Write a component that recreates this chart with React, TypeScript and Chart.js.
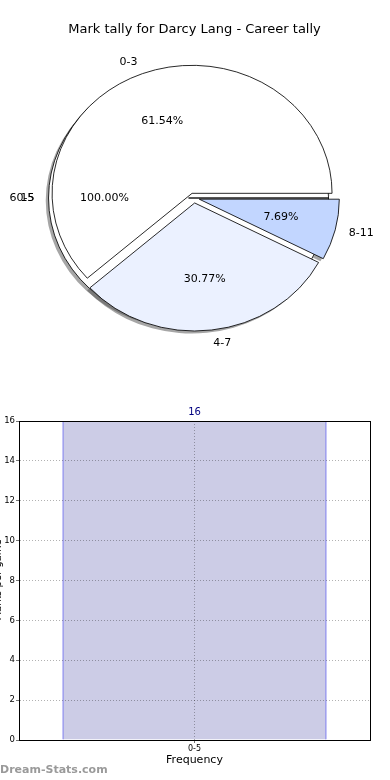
import React, { useEffect, useRef } from 'react';
import { Chart, registerables } from 'chart.js';

Chart.register(...registerables);

const FONT = "'DejaVu Sans', 'Liberation Sans', sans-serif";

const chartTitle = 'Mark tally for Darcy Lang - Career tally';
const pieCategories = ['0-3', '4-7', '8-11'];
const pieValues = [8, 4, 1];
const pieColors = ['#ffffff', '#ebf1ff', '#c2d6ff'];
const bgPieCategories = ['0-5'];
const bgPieValues = [16];
const bgStrayLabels = ['6', '15'];
const barCategories = ['0-5'];
const barValues = [16];
const yTickValues = [0, 2, 4, 6, 8, 10, 12, 14, 16];
const xAxisTitle = 'Frequency';
const yAxisTitle = 'Marks per game';
const watermark = 'Dream-Stats.com';

const R = 128;
const SX = 140 / 128;
const EXPLODE = 5;
const SH_X = -2.8;
const SH_Y = 2.6;

function pieDrawPlugin(clipBg: boolean) {
  return {
    id: 'pieDraw',
    beforeDatasetDraw(chart: any, args: any) {
      const ctx = chart.ctx as CanvasRenderingContext2D;
      const arcs = args.meta.data as any[];
      if (!arcs.length) return false;
      const cx = arcs[0].x;
      const cy = arcs[0].y;
      ctx.save();
      ctx.translate(cx, cy);
      ctx.scale(SX, 1);
      ctx.translate(-cx, -cy);
      // shadows
      ctx.save();
      if (clipBg) {
        ctx.beginPath();
        ctx.rect(cx - 2000, cy - 2000, 4000, 4000);
        ctx.moveTo(cx - EXPLODE + R, cy);
        ctx.arc(cx - EXPLODE, cy, R, 0, Math.PI * 2);
        ctx.clip('evenodd');
      }
      ctx.fillStyle = 'rgba(77,77,77,0.5)';
      for (const a of arcs) {
        const mid = (a.startAngle + a.endAngle) / 2;
        const ox = a.x + Math.cos(mid) * EXPLODE + SH_X / SX;
        const oy = a.y + Math.sin(mid) * EXPLODE + SH_Y;
        ctx.beginPath();
        ctx.moveTo(ox, oy);
        ctx.arc(ox, oy, a.outerRadius, a.startAngle, a.endAngle);
        ctx.closePath();
        ctx.fill();
      }
      ctx.restore();
      // wedges
      for (const a of arcs) {
        const mid = (a.startAngle + a.endAngle) / 2;
        ctx.save();
        ctx.translate(Math.cos(mid) * EXPLODE, Math.sin(mid) * EXPLODE);
        a.draw(ctx);
        ctx.restore();
      }
      ctx.restore();
      return false;
    },
  };
}

function drawPieLabels(ctx: CanvasRenderingContext2D, chart: any, strays: string[] | null) {
  const arcs = chart.getDatasetMeta(0).data as any[];
  const labels = chart.data.labels as string[];
  const data = chart.data.datasets[0].data as number[];
  const total = data.reduce((s, v) => s + v, 0);
  ctx.save();
  ctx.font = `11px ${FONT}`;
  ctx.fillStyle = '#000';
  ctx.textBaseline = 'middle';
  arcs.forEach((a, i) => {
    const mid = (a.startAngle + a.endAngle) / 2;
    const c = Math.cos(mid);
    const s = Math.sin(mid);
    const ex = a.x + c * EXPLODE * SX;
    const ey = a.y + s * EXPLODE;
    const lx = ex + 1.1 * a.outerRadius * SX * c;
    const ly = ey + 1.1 * a.outerRadius * s;
    const right = lx <= a.x;
    ctx.textAlign = right ? 'right' : 'left';
    ctx.fillText(labels[i], lx, ly);
    if (strays && i === 0) {
      const w = ctx.measureText(labels[i]).width;
      ctx.fillText(strays[0], lx - w, ly);
      ctx.fillText(strays[1], lx, ly);
    }
    const px = ex + 0.6 * a.outerRadius * SX * c;
    const py = ey + 0.6 * a.outerRadius * s;
    ctx.textAlign = 'center';
    ctx.fillText(((data[i] / total) * 100).toFixed(2) + '%', px, py);
  });
  ctx.restore();
}

export default function App() {
  const bgRef = useRef<HTMLCanvasElement>(null);
  const mainRef = useRef<HTMLCanvasElement>(null);
  const barRef = useRef<HTMLCanvasElement>(null);

  useEffect(() => {
    Chart.defaults.font.family = FONT;

    const pieBase = (labels: string[], values: number[], colors: string[], plugins: any[]) =>
      ({
        type: 'pie',
        data: {
          labels,
          datasets: [
            {
              data: values,
              backgroundColor: colors,
              borderColor: '#000',
              borderWidth: 0.8,
            },
          ],
        },
        options: {
          responsive: false,
          animation: false,
          events: [],
          rotation: 90,
          radius: R,
          layout: { padding: { left: 0, right: 2, top: 0, bottom: 4 } },
          plugins: { legend: { display: false }, tooltip: { enabled: false } },
        },
        plugins,
      } as any);

    const titlePlugin = {
      id: 'pieTitle',
      afterDraw(chart: any) {
        const ctx = chart.ctx as CanvasRenderingContext2D;
        ctx.save();
        ctx.font = `13px ${FONT}`;
        ctx.fillStyle = '#000';
        ctx.textAlign = 'center';
        ctx.textBaseline = 'middle';
        ctx.fillText(chartTitle, 194.5, 30);
        ctx.restore();
      },
    };

    const bg = new Chart(
      bgRef.current!,
      pieBase(bgPieCategories, bgPieValues, ['#ffffff'], [pieDrawPlugin(false), titlePlugin])
    );

    const labelPlugin = {
      id: 'pieLabels',
      afterDraw(chart: any) {
        const ctx = chart.ctx as CanvasRenderingContext2D;
        drawPieLabels(ctx, bg, bgStrayLabels);
        drawPieLabels(ctx, chart, null);
      },
    };

    const main = new Chart(
      mainRef.current!,
      pieBase(
        [...pieCategories].reverse(),
        [...pieValues].reverse(),
        [...pieColors].reverse(),
        [pieDrawPlugin(true), labelPlugin]
      )
    );

    const gridOpts = {
      offset: false,
      z: 1,
      color: 'rgba(0,0,0,0.3)',
      lineWidth: 1,
      tickLength: 3,
      tickColor: 'rgba(0,0,0,0.55)',
      tickBorderDash: [],
    };
    const borderOpts = { display: true, color: '#000', width: 1, dash: [1, 2], z: 1 };

    const barExtras = {
      id: 'barExtras',
      afterDraw(chart: any) {
        const ctx = chart.ctx as CanvasRenderingContext2D;
        const { left, top, right, bottom } = chart.chartArea;
        ctx.save();
        ctx.strokeStyle = '#000';
        ctx.lineWidth = 1;
        ctx.strokeRect(Math.round(left) + 0.5, Math.round(top) + 0.5, Math.round(right - left), Math.round(bottom - top));
        // value labels
        const meta = chart.getDatasetMeta(0);
        ctx.font = `10px ${FONT}`;
        ctx.fillStyle = '#000080';
        ctx.textAlign = 'center';
        ctx.textBaseline = 'middle';
        meta.data.forEach((el: any, i: number) => {
          ctx.fillText(String(barValues[i]), el.x, el.y - 9);
        });
        // y title (cut off at the left edge)
        ctx.save();
        ctx.translate(-1.5, 180);
        ctx.rotate(-Math.PI / 2);
        ctx.font = `10px ${FONT}`;
        ctx.fillStyle = '#000';
        ctx.fillText(yAxisTitle, 0, 0);
        ctx.restore();
        // watermark
        ctx.font = `bold 11px ${FONT}`;
        ctx.fillStyle = '#9a9a9a';
        ctx.textAlign = 'left';
        ctx.fillText(watermark, 0, 370);
        ctx.restore();
      },
    };

    const bar = new Chart(barRef.current!, {
      type: 'bar',
      data: {
        labels: barCategories,
        datasets: [
          {
            data: barValues,
            backgroundColor: '#ccccE6',
            borderColor: '#0000e0',
            borderWidth: 1,
            barPercentage: 0.752,
            categoryPercentage: 1,
          },
        ],
      },
      options: {
        responsive: false,
        animation: false,
        events: [],
        layout: { padding: { left: 0, right: 20, top: 21, bottom: 0 } },
        plugins: { legend: { display: false }, tooltip: { enabled: false } },
        scales: {
          x: {
            offset: true,
            z: 1,
            grid: gridOpts,
            border: borderOpts,
            ticks: { font: { size: 8 }, color: '#000', padding: 1, maxRotation: 0 },
            title: {
              display: true,
              text: xAxisTitle,
              font: { size: 11 },
              color: '#000',
              padding: { top: 0, bottom: 13 },
            },
            afterFit: (s: any) => {
              s.height = 40;
            },
          },
          y: {
            min: 0,
            max: 16,
            z: 1,
            afterBuildTicks: (s: any) => {
              s.ticks = yTickValues.map((v) => ({ value: v }));
            },
            grid: gridOpts,
            border: borderOpts,
            ticks: { font: { size: 8.5 }, color: '#000', padding: 1 },
            afterFit: (s: any) => {
              s.width = 19;
            },
          },
        },
      },
      plugins: [barExtras],
    } as any);

    return () => {
      bg.destroy();
      main.destroy();
      bar.destroy();
    };
  }, []);

  return (
    <div
      style={{
        position: 'fixed',
        left: 0,
        top: 0,
        width: 390,
        height: 780,
        background: '#fff',
        overflow: 'hidden',
      }}
    >
      <canvas
        ref={bgRef}
        width={390}
        height={400}
        style={{ position: 'absolute', left: 0, top: 0, width: 390, height: 400 }}
      />
      <canvas
        ref={mainRef}
        width={390}
        height={400}
        style={{ position: 'absolute', left: 0, top: 0, width: 390, height: 400 }}
      />
      <canvas
        ref={barRef}
        width={390}
        height={380}
        style={{ position: 'absolute', left: 0, top: 400, width: 390, height: 380 }}
      />
    </div>
  );
}
